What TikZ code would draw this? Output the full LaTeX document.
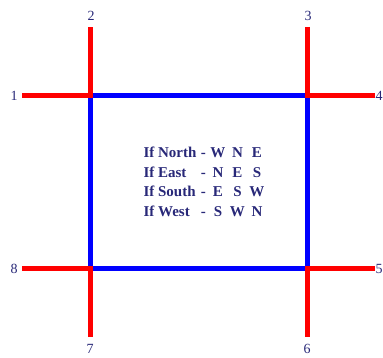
\documentclass[tikz,border=0pt]{standalone}
\usepackage{fontspec}
\setmainfont{Liberation Serif}
\usepackage{tikz}

\definecolor{sqblue}{RGB}{0,0,255}
\definecolor{armred}{RGB}{255,0,0}
\definecolor{txtblue}{RGB}{40,40,120}

\begin{document}
\begin{tikzpicture}[x=1pt, y=-1pt, every node/.style={font=\fontsize{14}{17}\selectfont, text=txtblue}]
  \useasboundingbox (0,0) rectangle (383,358);

  % corners of the square
  \coordinate (nw) at (90,96);
  \coordinate (ne) at (307,96);
  \coordinate (se) at (307,269);
  \coordinate (sw) at (90,269);

  % free ends of the arms
  \coordinate (a1) at (22,96);
  \coordinate (a2) at (90,27);
  \coordinate (a3) at (307,27);
  \coordinate (a4) at (375,96);
  \coordinate (a5) at (375,269);
  \coordinate (a6) at (307,337);
  \coordinate (a7) at (90,337);
  \coordinate (a8) at (22,269);

  % square
  \draw[sqblue, line width=5pt] (nw) -- (ne) -- (se) -- (sw) -- cycle;

  % arms
  \draw[armred, line width=5pt] (a1) -- (nw) -- (a2);
  \draw[armred, line width=5pt] (a3) -- (ne) -- (a4);
  \draw[armred, line width=5pt] (a5) -- (se) -- (a6);
  \draw[armred, line width=5pt] (a7) -- (sw) -- (a8);

  % arm numbers
  \node (n1) at (14,96) {1};
  \node (n2) at (91,16) {2};
  \node (n3) at (308,16) {3};
  \node[inner sep=0pt] (n4) at (379,96) {4};
  \node[inner sep=0pt] (n5) at (379,269) {5};
  \node (n6) at (307,349) {6};
  \node (n7) at (90,349) {7};
  \node (n8) at (14,269) {8};

  % turning rules
  \node[font=\fontsize{15}{19.5}\selectfont\bfseries] (rules) at (204,183) {%
    \begin{tabular}{@{}l@{\hspace{0.3em}}l@{\hspace{0.3em}}c@{\hspace{0.3em}}c@{\hspace{0.3em}}c@{}}
      If North & - & W & N & E\\
      If East  & - & N & E & S\\
      If South & - & E & S & W\\
      If West  & - & S & W & N
    \end{tabular}};
\end{tikzpicture}
\end{document}
